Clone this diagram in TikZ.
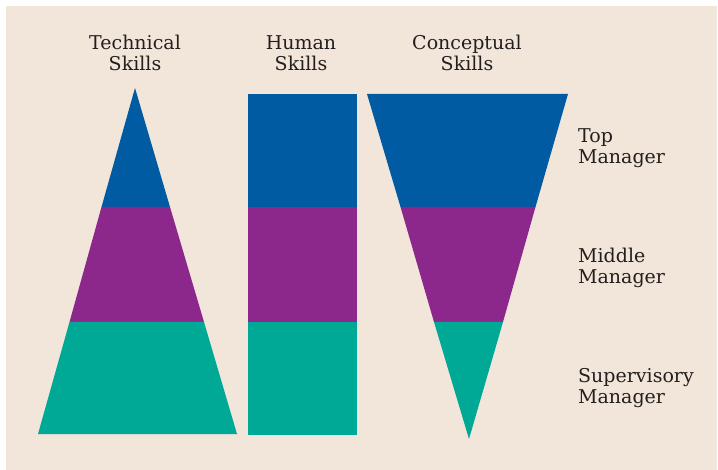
\documentclass[tikz,border=0pt]{standalone}
\usepackage{fontspec}
\setmainfont{DejaVu Serif}
\usepackage{tikz}
\definecolor{bgbeige}{HTML}{F2E6DA}
\definecolor{topblue}{HTML}{005BA3}
\definecolor{midpurple}{HTML}{8C278C}
\definecolor{supteal}{HTML}{00A896}
\definecolor{inkgrey}{HTML}{231F1E}
\tikzset{
  band/.style    = {draw=none},
  topband/.style = {band, fill=topblue},
  midband/.style = {band, fill=midpurple},
  supband/.style = {band, fill=supteal},
  heading/.style = {align=center, text=inkgrey, inner sep=0pt,
                    font=\fontsize{19}{21}\selectfont},
  level/.style   = {heading, align=left, anchor=west},
}

\begin{document}
\begin{tikzpicture}[x=1pt, y=-1pt]
  \useasboundingbox (0,0) rectangle (718,470);
  \fill[bgbeige] (6,6) rectangle (717,470);

  % technical skills
  \fill[topband] (135,88) -- (170,207) -- (101.5,207) -- cycle;
  \fill[midband] (101.5,207) -- (170,207) -- (204,322) -- (69.5,322) -- cycle;
  \fill[supband] (69.5,322) -- (204,322) -- (237,434) -- (38,434) -- cycle;

  % human skills
  \fill[topband] (248,94) rectangle (357,207);
  \fill[midband] (248,207) rectangle (357,322);
  \fill[supband] (248,322) rectangle (357,435);

  % conceptual skills
  \fill[topband] (367,94) -- (568,94) -- (535.5,207) -- (400.5,207) -- cycle;
  \fill[midband] (400.5,207) -- (535.5,207) -- (503,322) -- (434,322) -- cycle;
  \fill[supband] (434,322) -- (503,322) -- (469,439) -- cycle;

  \node[heading] (tech) at (135,53) {Technical\\Skills};
  \node[heading] (human) at (301,53) {Human\\Skills};
  \node[heading] (concept) at (467,53) {Conceptual\\Skills};

  \node[level] (top) at (578,148) {Top\\Manager};
  \node[level] (middle) at (578,268) {Middle\\Manager};
  \node[level] (super) at (578,388) {Supervisory\\Manager};
\end{tikzpicture}
\end{document}
